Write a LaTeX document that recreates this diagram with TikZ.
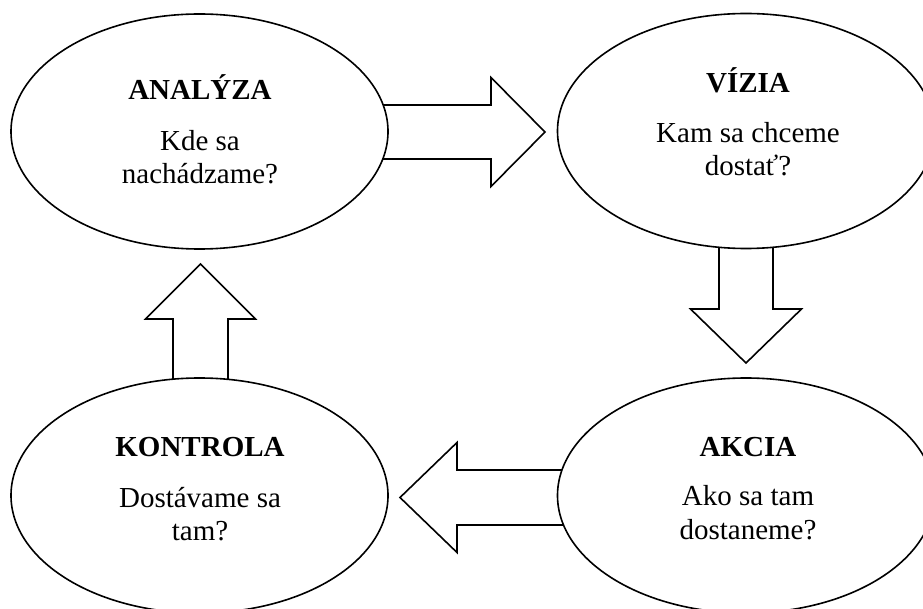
\documentclass[tikz,border=0pt]{standalone}
\usepackage{fontspec}
\setmainfont{Liberation Serif}
\usetikzlibrary{shapes.geometric,calc}

\begin{document}
\begin{tikzpicture}[x=1pt,y=-1pt,
  stage/.style={ellipse, draw=black, line width=1.6pt, fill=white,
    minimum width=377pt, minimum height=235pt, inner sep=0pt},
  blockarrow/.style={draw=black, line width=1.6pt, fill=white, line join=miter},
  ttl/.style={font=\fontsize{29}{33}\selectfont\bfseries, anchor=base, inner sep=0pt},
  txt/.style={font=\fontsize{29}{33}\selectfont, anchor=base, inner sep=0pt}]

\useasboundingbox (0,0) rectangle (923,609);
\clip (0,0) rectangle (923,609);

% stage positions
\coordinate (pA) at (199.5,131.5);
\coordinate (pV) at (746,131);
\coordinate (pK) at (199.5,495.5);
\coordinate (pC) at (746,495.5);

% block arrows (drawn first, the ellipses cover their tails)
\coordinate (s1) at (370,132);  \coordinate (t1) at (545,132);
\draw[blockarrow] ($(s1)+(0,-27)$) -- ($(t1)+(-54,-27)$) -- ($(t1)+(-54,-54.5)$)
  -- (t1) -- ($(t1)+(-54,54.5)$) -- ($(t1)+(-54,27)$) -- ($(s1)+(0,27)$) -- cycle;

\coordinate (s2) at (746,235);  \coordinate (t2) at (746,363);
\draw[blockarrow] ($(s2)+(-27,0)$) -- ($(t2)+(-27,-54)$) -- ($(t2)+(-55.5,-54)$)
  -- (t2) -- ($(t2)+(55.5,-54)$) -- ($(t2)+(27,-54)$) -- ($(s2)+(27,0)$) -- cycle;

\coordinate (s3) at (575,497.5);  \coordinate (t3) at (400,497.5);
\draw[blockarrow] ($(s3)+(0,-27.5)$) -- ($(t3)+(57,-27.5)$) -- ($(t3)+(57,-55)$)
  -- (t3) -- ($(t3)+(57,55)$) -- ($(t3)+(57,27.5)$) -- ($(s3)+(0,27.5)$) -- cycle;

\coordinate (s4) at (200.5,392);  \coordinate (t4) at (200.5,264);
\draw[blockarrow] ($(s4)+(-27.5,0)$) -- ($(t4)+(-27.5,55)$) -- ($(t4)+(-55,55)$)
  -- (t4) -- ($(t4)+(55,55)$) -- ($(t4)+(27.5,55)$) -- ($(s4)+(27.5,0)$) -- cycle;

% stages
\node[stage] (A) at (pA) {};
\node[stage] (V) at (pV) {};
\node[stage] (K) at (pK) {};
\node[stage] (C) at (pC) {};

% texts
\node[ttl] (At) at (200,100) {ANALÝZA};
\node[txt] (A1) at (200,151) {Kde sa};
\node[txt] (A2) at (200,184) {nachádzame?};

\node[ttl] (Vt) at (748,93) {VÍZIA};
\node[txt] (V1) at (748,143) {Kam sa chceme};
\node[txt] (V2) at (748,176) {dostať?};

\node[ttl] (Kt) at (200,456) {KONTROLA};
\node[txt] (K1) at (200,507) {Dostávame sa};
\node[txt] (K2) at (200,540) {tam?};

\node[ttl] (Ct) at (748,456) {AKCIA};
\node[txt] (C1) at (748,505) {Ako sa tam};
\node[txt] (C2) at (748,539) {dostaneme?};
\end{tikzpicture}
\end{document}
